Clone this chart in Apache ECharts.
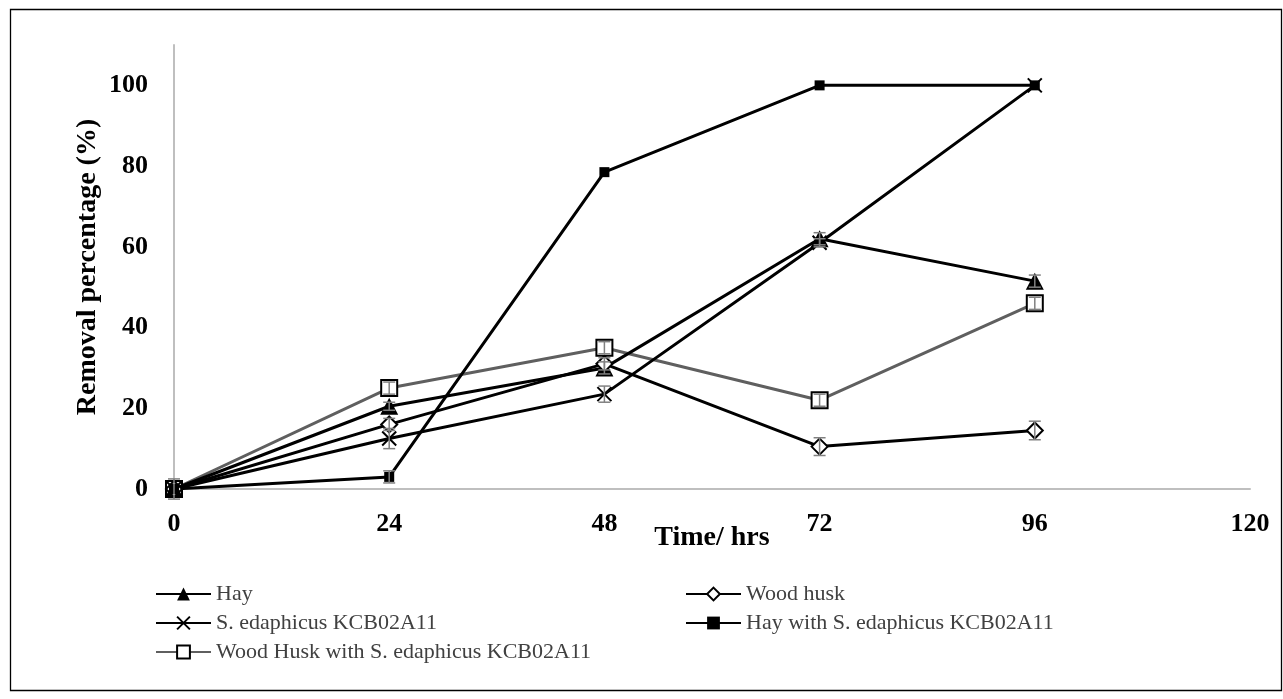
<!DOCTYPE html>
<html>
<head>
<meta charset="utf-8">
<script src="https://cdn.jsdelivr.net/npm/echarts@6/dist/echarts.min.js"></script>
<style>html,body{margin:0;padding:0;background:#fff}#c{width:1283px;height:699px}</style>
</head>
<body>
<div id="c"></div>
<script>
// ---- data ----
const times = [0, 24, 48, 72, 96];
const xTicks = [0, 24, 48, 72, 96, 120];
const yTicks = [0, 20, 40, 60, 80, 100];

const hay = [0, 20.5, 30, 62, 51.5];
const hayErr = [0, 1, 1.5, 1.5, 1.5];

const woodHusk = [0, 16, 31, 10.5, 14.5];
const woodHuskErr = [0, 1.5, 1.5, 2.2, 2.3];

const sEda = [0, 12.5, 23.5, 61, 100];
const sEdaErr = [0, 2.5, 2, 1, 0];

const hayWithS = [0, 3, 78.5, 100, 100];
const hayWithSErr = [0, 1.5, 0, 0, 0];

const woodWithS = [0, 25, 35, 22, 46];
const woodWithSErr = [2.5, 1.5, 1.5, 1.5, 1.5];

const names = ['Hay', 'Wood husk', 'S. edaphicus KCB02A11', 'Hay with S. edaphicus KCB02A11', 'Wood Husk with S. edaphicus KCB02A11'];

// ---- build ----
const serif = '"Liberation Serif","Times New Roman",serif';
const pairs = (vals) => times.map((t, i) => [t, vals[i]]);
const errPairs = (vals, errs) => times.map((t, i) => [t, vals[i], errs[i]]);

function errSeries(vals, errs) {
  return {
    type: 'custom',
    silent: true,
    z: 5,
    data: errPairs(vals, errs),
    renderItem: function (params, api) {
      const x = api.value(0), y = api.value(1), e = api.value(2);
      if (!e) return null;
      const lo = api.coord([x, y - e]);
      const hi = api.coord([x, y + e]);
      const hw = 6;
      const st = { stroke: '#808080', lineWidth: 1.5 };
      return {
        type: 'group',
        children: [
          { type: 'line', shape: { x1: lo[0], y1: lo[1], x2: hi[0], y2: hi[1] }, style: st },
          { type: 'line', shape: { x1: lo[0] - hw, y1: lo[1], x2: lo[0] + hw, y2: lo[1] }, style: st },
          { type: 'line', shape: { x1: hi[0] - hw, y1: hi[1], x2: hi[0] + hw, y2: hi[1] }, style: st }
        ]
      };
    }
  };
}

const xPath = 'path://M0,0L10,10M10,0L0,10';

const series = [
  {
    name: names[0], type: 'line', data: pairs(hay), z: 3,
    symbol: 'triangle', symbolSize: [18, 17],
    lineStyle: { color: '#000', width: 3 },
    itemStyle: { color: '#000', borderWidth: 0 }
  },
  {
    name: names[1], type: 'line', data: pairs(woodHusk), z: 3,
    symbol: 'emptyDiamond', symbolSize: 16,
    lineStyle: { color: '#000', width: 3 },
    itemStyle: { color: '#000', borderWidth: 2 }
  },
  {
    name: names[3], type: 'line', data: pairs(hayWithS), z: 3,
    symbol: 'rect', symbolSize: 10,
    lineStyle: { color: '#000', width: 3 },
    itemStyle: { color: '#000', borderWidth: 0 }
  },
  {
    name: names[2], type: 'line', data: pairs(sEda), z: 3,
    symbol: xPath, symbolSize: 14, symbolKeepAspect: true,
    lineStyle: { color: '#000', width: 3 },
    itemStyle: { color: '#000', borderColor: '#000', borderWidth: 2 }
  },
  {
    name: names[4], type: 'line', data: pairs(woodWithS), z: 2,
    symbol: 'emptyRect', symbolSize: 16,
    lineStyle: { color: '#5f5f5f', width: 3 },
    itemStyle: { color: '#000', borderWidth: 2.2 }
  },
  errSeries(hay, hayErr),
  errSeries(woodHusk, woodHuskErr),
  errSeries(sEda, sEdaErr),
  errSeries(hayWithS, hayWithSErr),
  errSeries(woodWithS, woodWithSErr)
];

const legendText = { fontFamily: serif, fontSize: 22, color: '#404040', lineHeight: 22 };

const option = {
  animation: false,
  backgroundColor: '#fff',
  graphic: [{
    type: 'rect', silent: true, z: 0,
    shape: { x: 10.5, y: 9.5, width: 1271, height: 681 },
    style: { fill: 'none', stroke: '#000', lineWidth: 1.3 }
  }],
  grid: { left: 174, right: 33, top: 45, bottom: 210, containLabel: false },
  xAxis: {
    type: 'value', min: 0, max: 120, interval: 24,
    name: 'Time/ hrs', nameLocation: 'middle', nameGap: 35, nameMoveOverlap: false,
    nameTextStyle: { fontFamily: serif, fontSize: 28, fontWeight: 'bold', color: '#000' },
    axisLine: { show: true, lineStyle: { color: '#bfbfbf', width: 2 } },
    axisTick: { show: false },
    splitLine: { show: false },
    axisLabel: {
      margin: 22, fontFamily: serif, fontSize: 26, fontWeight: 'bold', color: '#000',
      formatter: (v) => (xTicks.indexOf(v) >= 0 ? String(v) : '')
    }
  },
  yAxis: {
    type: 'value', min: 0, max: 110, interval: 20,
    name: 'Removal percentage (%)', nameLocation: 'middle', nameGap: 72, nameRotate: 90, nameMoveOverlap: false,
    nameTextStyle: { fontFamily: serif, fontSize: 28, fontWeight: 'bold', color: '#000' },
    axisLine: { show: true, lineStyle: { color: '#bfbfbf', width: 2 } },
    axisTick: { show: false },
    splitLine: { show: false },
    axisLabel: {
      margin: 26, fontFamily: serif, fontSize: 26, fontWeight: 'bold', color: '#000',
      formatter: (v) => (yTicks.indexOf(v) >= 0 ? String(v) : '')
    }
  },
  legend: [
    {
      orient: 'vertical', left: 150, top: 578, itemWidth: 55, itemHeight: 16, itemGap: 7, padding: 5,
      textStyle: legendText, data: [names[0], names[2], names[4]], selectedMode: false
    },
    {
      orient: 'vertical', left: 680, top: 578, itemWidth: 55, itemHeight: 16, itemGap: 7, padding: 5,
      textStyle: legendText, data: [names[1], names[3]], selectedMode: false
    }
  ],
  series: series
};

const chart = echarts.init(document.getElementById('c'));
chart.setOption(option);
</script>
</body>
</html>
